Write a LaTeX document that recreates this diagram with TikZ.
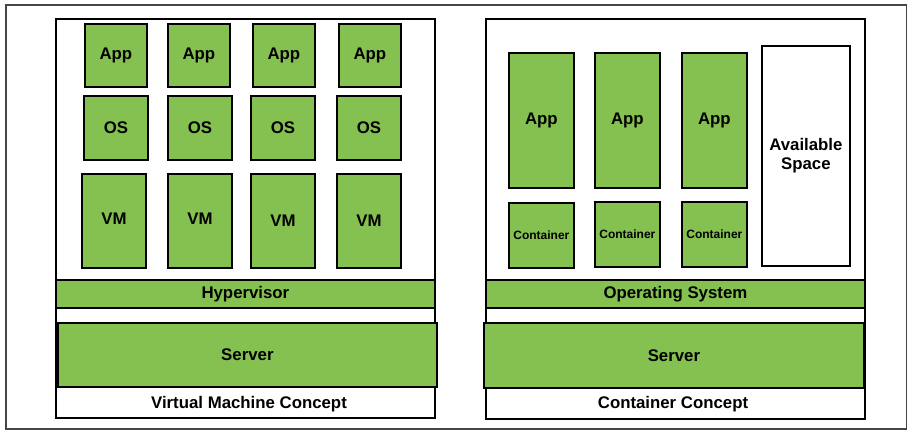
\documentclass[tikz,border=0pt]{standalone}
\usepackage{fontspec}
\setmainfont{Liberation Sans}
\definecolor{boxgreen}{RGB}{133,193,80}
\definecolor{framegray}{RGB}{70,70,70}
\begin{document}
\begin{tikzpicture}[x=1pt,y=-1pt,
  gbox/.style={draw=black,fill=boxgreen,line width=1.8pt,inner sep=0pt,anchor=north west,
    font=\fontsize{16.8}{19}\selectfont\bfseries},
  wbox/.style={draw=black,fill=white,line width=1.8pt,inner sep=0pt,anchor=north west,
    font=\fontsize{16.8}{19.5}\selectfont\bfseries,align=center},
  panel/.style={draw=black,line width=1.8pt,inner sep=0pt,anchor=north west},
  lbl/.style={font=\fontsize{16.8}{19}\selectfont\bfseries,inner sep=0pt},
  small/.style={font=\fontsize{12}{13}\selectfont\bfseries}
]
\useasboundingbox (0,0) rectangle (907,430);
\node[draw=framegray,line width=1.8pt,inner sep=0pt,anchor=north west,minimum width=901pt,minimum height=424pt] (frame) at (5,4) {};

% ---------- left panel ----------
\node[panel,minimum width=379pt,minimum height=399pt] (vmpanel) at (55,18) {};
\node[gbox,minimum width=62pt,minimum height=63pt] (app1) at (84,23) {App};
\node[gbox,minimum width=62pt,minimum height=63pt] (app2) at (167,23) {App};
\node[gbox,minimum width=62pt,minimum height=63pt] (app3) at (252,23) {App};
\node[gbox,minimum width=62pt,minimum height=63pt] (app4) at (338,23) {App};
\node[gbox,minimum width=64pt,minimum height=64pt] (os1) at (83,95) {OS};
\node[gbox,minimum width=64pt,minimum height=64pt] (os2) at (167,95) {OS};
\node[gbox,minimum width=64pt,minimum height=64pt] (os3) at (250,95) {OS};
\node[gbox,minimum width=64pt,minimum height=64pt] (os4) at (336,95) {OS};
\node[gbox,minimum width=64pt,minimum height=94pt,text depth=4pt] (vm1) at (81,173) {VM};
\node[gbox,minimum width=64pt,minimum height=94pt,text depth=4pt] (vm2) at (167,173) {VM};
\node[gbox,minimum width=64pt,minimum height=94pt] (vm3) at (250,173) {VM};
\node[gbox,minimum width=64pt,minimum height=94pt] (vm4) at (336,173) {VM};
\node[gbox,minimum width=379pt,minimum height=28pt] (hyp) at (55,279) {Hypervisor};
\node[gbox,minimum width=379pt,minimum height=64pt] (srv1) at (57,322) {Server};
\node[lbl] (vmlbl) at (249,404) {Virtual Machine Concept};

% ---------- right panel ----------
\node[panel,minimum width=379pt,minimum height=400pt] (ctpanel) at (485,18) {};
\node[gbox,minimum width=65pt,minimum height=135pt] (capp1) at (508,52) {App};
\node[gbox,minimum width=65pt,minimum height=135pt] (capp2) at (594,52) {App};
\node[gbox,minimum width=65pt,minimum height=135pt] (capp3) at (681,52) {App};
\node[wbox,minimum width=88pt,minimum height=220pt] (avail) at (761,45) {Available\\Space};
\node[gbox,small,minimum width=65pt,minimum height=65pt] (cont1) at (508,202) {Container};
\node[gbox,small,minimum width=65pt,minimum height=65pt] (cont2) at (594,201) {Container};
\node[gbox,small,minimum width=65pt,minimum height=65pt] (cont3) at (681,201) {Container};
\node[gbox,minimum width=379pt,minimum height=28pt] (opsys) at (485,279) {Operating System};
\node[gbox,minimum width=380pt,minimum height=65pt] (srv2) at (483,322) {Server};
\node[lbl] (ctlbl) at (673,404) {Container Concept};
\end{tikzpicture}
\end{document}
